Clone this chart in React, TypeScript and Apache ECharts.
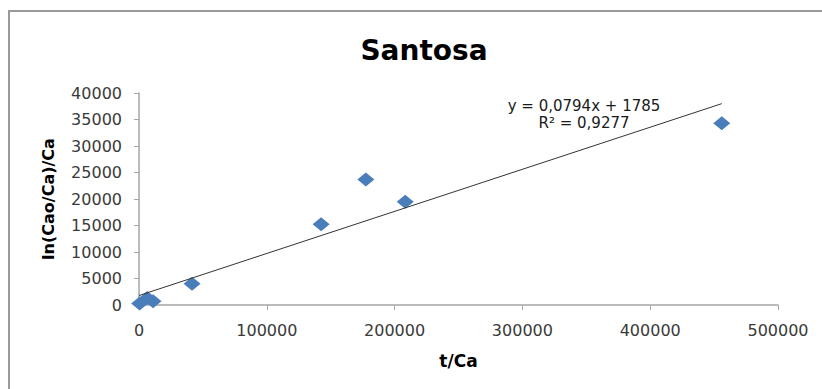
import React, { useEffect, useRef } from "react";
import * as echarts from "echarts";

const TITLE = "Santosa";
const X_NAME = "t/Ca";
const Y_NAME = "ln(Cao/Ca)/Ca";
const X_VALUES = [500, 6500, 11000, 41500, 142500, 177500, 208300, 456000];
const Y_VALUES = [300, 1300, 700, 4000, 15250, 23700, 19470, 34300];
const TREND_SLOPE = 0.0794;
const TREND_INTERCEPT = 1785;
const EQUATION_LINES = ["y = 0,0794x + 1785", "R² = 0,9277"];

export default function App() {
  const ref = useRef<HTMLDivElement>(null);
  useEffect(() => {
    document.body.style.margin = "0";
    if (!ref.current) return;
    const chart = echarts.init(ref.current, null, { renderer: "svg" });
    const points = X_VALUES.map((x, i) => [x, Y_VALUES[i]]);
    const xMax = Math.max(...X_VALUES);
    const trend = [
      [0, TREND_INTERCEPT],
      [xMax, TREND_SLOPE * xMax + TREND_INTERCEPT],
    ];
    const axisLabelStyle = {
      fontFamily: "DejaVu Sans",
      fontSize: 16,
      color: "#3a3a3a",
      formatter: (v: number) => String(v),
    };
    const eqStyle = {
      fontFamily: "DejaVu Sans",
      fontSize: 15,
      lineHeight: 16,
      fill: "#1a1a1a",
      textAlign: "center",
      textVerticalAlign: "middle",
    };
    chart.setOption({
      animation: false,
      backgroundColor: "#ffffff",
      title: {
        text: TITLE,
        left: 419,
        top: 31,
        textAlign: "center",
        textStyle: {
          fontFamily: "DejaVu Sans",
          fontWeight: "bold",
          fontSize: 28,
          color: "#000000",
        },
      },
      grid: { left: 139, right: 44, top: 93, bottom: 84, containLabel: false },
      xAxis: {
        type: "value",
        min: 0,
        max: 500000,
        interval: 100000,
        name: X_NAME,
        nameLocation: "middle",
        nameGap: 47,
        nameTextStyle: {
          fontFamily: "DejaVu Sans",
          fontWeight: "bold",
          fontSize: 17,
          color: "#000000",
        },
        axisLine: { show: true, lineStyle: { color: "#a6a6a6", width: 1.5 } },
        axisTick: { show: true, length: 5, lineStyle: { color: "#a6a6a6" } },
        splitLine: { show: false },
        axisLabel: { ...axisLabelStyle, margin: 17 },
      },
      yAxis: {
        type: "value",
        min: 0,
        max: 40000,
        interval: 5000,
        name: Y_NAME,
        nameLocation: "middle",
        nameRotate: 90,
        nameGap: 83,
        nameTextStyle: {
          fontFamily: "DejaVu Sans",
          fontWeight: "bold",
          fontSize: 16,
          color: "#000000",
        },
        axisLine: { show: true, lineStyle: { color: "#a6a6a6", width: 1.5 } },
        axisTick: { show: true, length: 5, lineStyle: { color: "#a6a6a6" } },
        splitLine: { show: false },
        axisLabel: { ...axisLabelStyle, margin: 17 },
      },
      graphic: [
        {
          type: "rect",
          shape: { x: 9, y: 11, width: 900, height: 500 },
          style: { fill: "none", stroke: "#9a9a9a", lineWidth: 2 },
          z: 100,
        },
        {
          type: "text",
          x: 584,
          y: 106,
          style: { ...eqStyle, text: EQUATION_LINES[0] },
          z: 100,
        },
        {
          type: "text",
          x: 584,
          y: 123,
          style: { ...eqStyle, text: EQUATION_LINES[1] },
          z: 100,
        },
      ],
      series: [
        {
          type: "line",
          data: trend,
          symbol: "none",
          lineStyle: { color: "#333333", width: 1 },
          z: 3,
          silent: true,
        },
        {
          type: "scatter",
          data: points,
          symbol: "diamond",
          symbolSize: [17, 14],
          itemStyle: { color: "#4a7ebb", opacity: 1 },
          z: 2,
        },
      ],
    });
    return () => chart.dispose();
  }, []);
  return <div ref={ref} style={{ width: 822, height: 389 }} />;
}
